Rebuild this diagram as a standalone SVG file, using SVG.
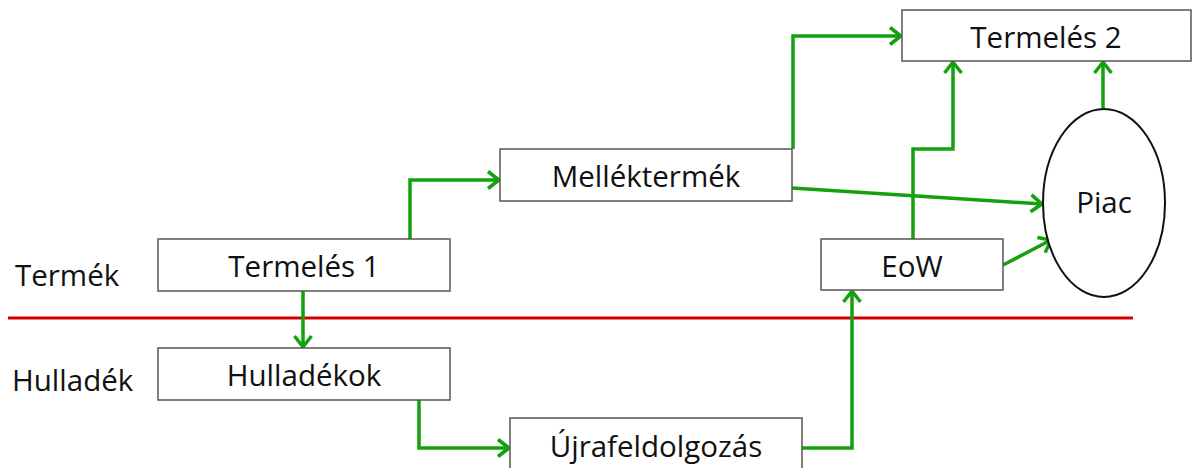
<svg xmlns="http://www.w3.org/2000/svg" width="1192" height="468" viewBox="0 0 1192 468">
<style>
.box{fill:#fff;stroke:#555;stroke-width:1.5}
.t{font-family:"Open Sans","Liberation Sans",sans-serif;font-size:29.5px;fill:#111;text-anchor:middle}
.l{font-family:"Open Sans","Liberation Sans",sans-serif;font-size:29.5px;fill:#111}
.c{fill:none;stroke:#13a10e;stroke-width:3.5;marker-end:url(#ah)}
</style>
<defs>
<marker id="ah" markerWidth="18" markerHeight="20" refX="14" refY="10" orient="auto" markerUnits="userSpaceOnUse">
<path d="M3,1.5 L14,10 L3,18.5" fill="none" stroke="#13a10e" stroke-width="3.5"/>
</marker>
</defs>
<rect width="1192" height="468" fill="#fff"/>
<line x1="8" y1="318" x2="1133" y2="318" stroke="#d40000" stroke-width="3"/>
<text class="l" x="15" y="286">Termék</text>
<text class="l" x="12" y="391">Hulladék</text>
<g id="connectors">
<path class="c" d="M303,291 V347"/>
<path class="c" d="M410,239 V180 H499"/>
<path class="c" d="M793,149 V36 H901"/>
<path class="c" d="M792,188 L1042,204"/>
<path class="c" d="M1103,108 V62"/>
<path class="c" d="M913,239 V149 H953 V62"/>
<path class="c" d="M1003,265 L1051,240"/>
<path class="c" d="M419,400 V448 H509"/>
<path class="c" d="M802,448 H852 V291"/>
</g>
<g id="termeles1"><rect class="box" x="158" y="239" width="292" height="52"/><text class="t" x="304" y="277">Termelés 1</text></g>
<g id="hulladekok"><rect class="box" x="158" y="348" width="292" height="52"/><text class="t" x="304" y="386">Hulladékok</text></g>
<g id="mellektermek"><rect class="box" x="500" y="149" width="292" height="52"/><text class="t" x="646" y="187">Melléktermék</text></g>
<g id="termeles2"><rect class="box" x="902" y="10" width="289" height="51"/><text class="t" x="1046" y="48">Termelés 2</text></g>
<g id="eow"><rect class="box" x="821" y="239" width="182" height="51"/><text class="t" x="912" y="277">EoW</text></g>
<g id="piac"><ellipse cx="1104" cy="203" rx="61" ry="94" fill="#fff" stroke="#111" stroke-width="2"/><text class="t" x="1104" y="213">Piac</text></g>
<g id="ujrafeldolgozas"><rect class="box" x="510" y="418" width="292" height="56"/><text class="t" x="656" y="457">Újrafeldolgozás</text></g>
</svg>
